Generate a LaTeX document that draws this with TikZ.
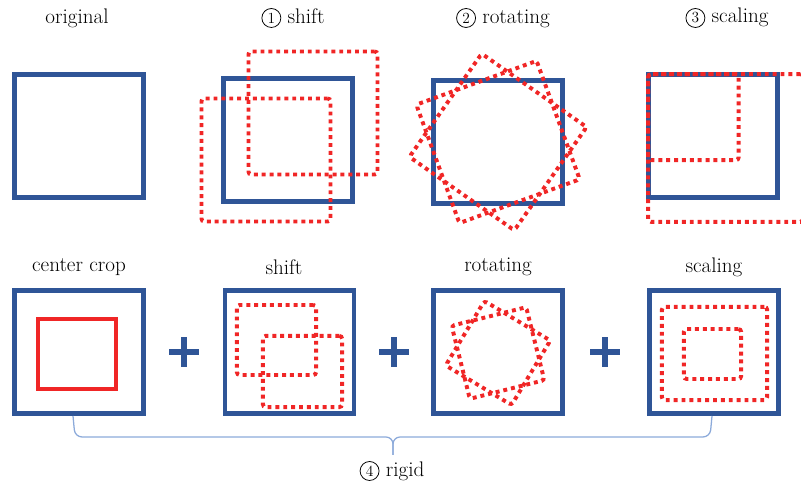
\documentclass[tikz,border=0pt]{standalone}
\usepackage{fontspec}
\usepackage{xcolor}
\usepackage{tikz}
\usetikzlibrary{
  positioning,
  calc
}
\newcommand{\circnum}[1]{\tikz[baseline=(cn.base)]\node[circle,draw,line width=0.55pt,inner sep=0.8pt,minimum size=13.5pt,font=\fontsize{11}{11}\selectfont] (cn) {#1};}
\definecolor{frameblue}{RGB}{47,85,151}
\definecolor{augred}{RGB}{240,38,38}
\definecolor{bracelblue}{RGB}{140,170,218}
\tikzset{
  framebox/.style={
    draw=frameblue,
    line width=3.2pt,
    inner sep=0pt,
    minimum width=3.225cm,
    minimum height=3.075cm
  },
  augbox/.style={
    draw=augred,
    line width=2.8pt,
    dash pattern=on 2.8pt off 2.8pt,
    rounded corners=2pt,
    inner sep=0pt
  },
  cropbox/.style={draw=augred,line width=2.8pt,inner sep=0pt},
  title/.style={font=\fontsize{15}{17}\selectfont,inner sep=0pt},
  plusbar/.style={draw=frameblue,line width=3.6pt},
  bracel/.style={draw=bracelblue,line width=0.9pt,rounded corners=5pt}
}
\begin{document}
\begin{tikzpicture}[x=0.025cm,y=0.025cm]
  \useasboundingbox (0,0) rectangle (801,490);

  % top row
  \node[title] (t-orig) at (77,472) {original};
  \node[framebox] (orig) at (79,354) {};

  \node[title] (t-shift) at (293,472) {\circnum{1} shift};
  \node[framebox] (shift) at (288,350) {};
  \node[augbox,minimum width=3.225cm,minimum height=3.075cm] (shift-a) at (313,377) {};
  \node[augbox,minimum width=3.225cm,minimum height=3.075cm] (shift-b) at (266,330) {};

  \node[title] (t-rot) at (503,472) {\circnum{2} rotating};
  \node[framebox] (rot) at (498,348) {};
  \node[augbox,minimum width=3.2cm,minimum height=3.15cm,rotate=-35] (rot-a) at (rot.center) {};
  \node[augbox,minimum width=3.2cm,minimum height=3.15cm,rotate=20] (rot-b) at (rot.center) {};

  \node[title] (t-scale) at (727,472) {\circnum{3} scaling};
  \node[framebox] (scale) at (713,354) {};
  \node[augbox,anchor=north west,minimum width=2.26cm,minimum height=2.15cm] (scale-s) at (scale.north west) {};
  \node[augbox,anchor=north west,minimum width=3.87cm,minimum height=3.69cm] (scale-l) at (scale.north west) {};

  % bottom row
  \node[title] (t-crop) at (79,223) {center crop};
  \node[framebox] (crop) at (79,138) {};
  \node[cropbox,minimum width=1.95cm,minimum height=1.75cm] (crop-in) at (77,136) {};

  \node[title] (t-bshift) at (284,223) {shift};
  \node[framebox] (bshift) at (289.5,138) {};
  \node[augbox,minimum width=1.98cm,minimum height=1.75cm] (bshift-a) at (276.5,150) {};
  \node[augbox,minimum width=1.98cm,minimum height=1.78cm] (bshift-b) at (302.5,118.5) {};

  \node[title] (t-brot) at (498,223) {rotating};
  \node[framebox] (brot) at (498,138) {};
  \node[augbox,minimum width=1.92cm,minimum height=1.88cm,rotate=-31] (brot-a) at (498,137) {};
  \node[augbox,minimum width=1.92cm,minimum height=1.88cm,rotate=14] (brot-b) at (498,137) {};

  \node[title] (t-bscale) at (714,223) {scaling};
  \node[framebox] (bscale) at (714,138) {};
  \node[augbox,minimum width=2.63cm,minimum height=2.33cm] (bscale-l) at (714.5,136.5) {};
  \node[augbox,minimum width=1.43cm,minimum height=1.25cm] (bscale-s) at (712.5,136) {};

  % plus signs
  \foreach \x [count=\i] in {184,394,605} {
    \coordinate (plus\i) at (\x,138);
    \draw[plusbar] (plus\i) +(-15,0) -- +(15,0);
    \draw[plusbar] (plus\i) +(0,-15) -- +(0,15);
  }

  % brace
  \coordinate (bl) at (73,74);
  \coordinate (br) at (712,74);
  \coordinate (tip) at (393,35);
  \draw[bracel] (bl) -- (75,53) -- (393,53) -- (tip);
  \draw[bracel] (br) -- (710,53) -- (393,53) -- (tip);
  \node[title] (rigid) at (392,19) {\circnum{4} rigid};
\end{tikzpicture}
\end{document}
